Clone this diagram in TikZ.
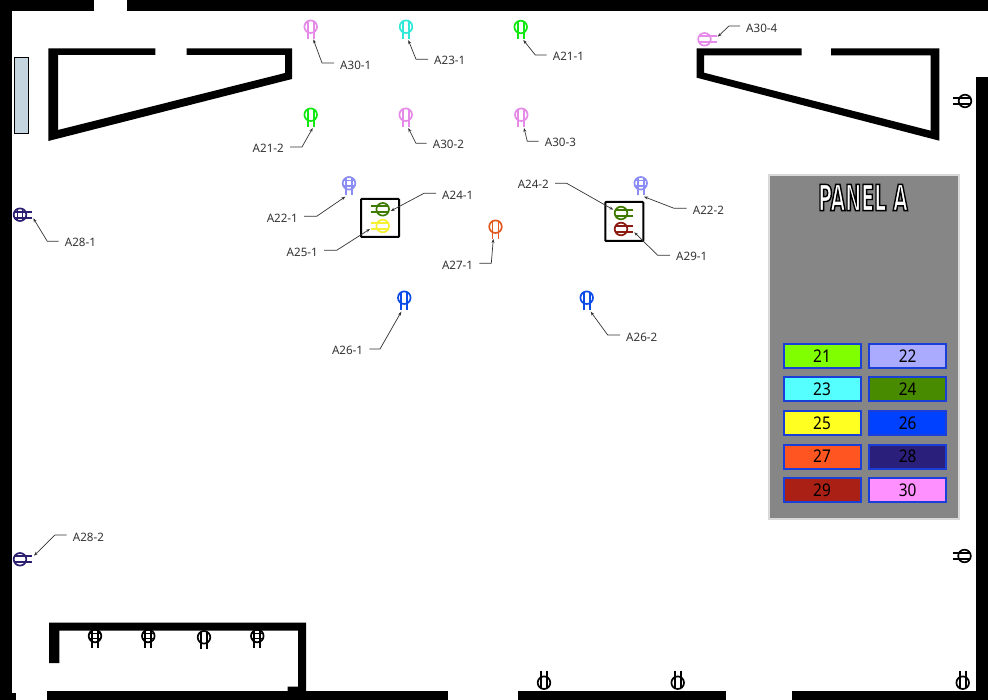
\documentclass[tikz,border=0pt]{standalone}
\usepackage{fontspec}
\setmainfont{Noto Sans}
\newfontfamily\numfont[FakeStretch=0.88]{Noto Sans}
\newfontfamily\titlefont[FakeStretch=0.53]{DejaVu Sans Bold}
\usetikzlibrary{arrows.meta,calc}
\definecolor{cA}{HTML}{10E810}\definecolor{cB}{HTML}{8C8CF5}\definecolor{cC}{HTML}{30E8D8}
\definecolor{cD}{HTML}{3F7A00}\definecolor{cE}{HTML}{F5F030}\definecolor{cF}{HTML}{0A4AE8}
\definecolor{cG}{HTML}{E05A20}\definecolor{cH}{HTML}{2C1F70}\definecolor{cI}{HTML}{8B1A10}
\definecolor{cJ}{HTML}{E58AE8}
\definecolor{lead}{HTML}{333333}
\definecolor{swborder}{HTML}{1A3FD8}
\definecolor{winfill}{HTML}{C5D5DF}
\definecolor{panelgray}{HTML}{868686}
\definecolor{panelrim}{HTML}{D9D9D9}
\tikzset{
  x=1pt,y=-1pt,
  wall/.style={fill=black,draw=none},
  leader/.style={draw=lead,line width=0.7pt,-{Stealth[length=4pt,width=3pt]}},
  taglabel/.style={text=lead,font=\fontsize{11.6}{13}\selectfont,inner xsep=6pt,inner ysep=0pt},
  swatch/.style={draw=swborder,line width=2pt,minimum width=77pt,minimum height=24pt,inner sep=0pt,font=\numfont\fontsize{17.5}{20}\selectfont,text=black},
  fixv/.pic={
    \draw[line width=1.7pt] (0,0) circle[radius=6.3];
    \draw[line width=1.7pt] (-3,12) -- (-3,-5.5) (3,12) -- (3,-5.5);
  },
  fixg/.pic={
    \draw[line width=1.7pt] (0,0) circle[radius=6.3];
    \draw[line width=1.7pt] (-3,12) -- (-3,-5.5) (3,12) -- (3,-5.5);
    \draw[line width=1.3pt] (-5.5,-2.6) -- (5.5,-2.6) (-5.5,2.6) -- (5.5,2.6);
  },
}
% name, pic, colour, centre, rotation
\newcommand{\fixture}[5]{\coordinate (#1) at (#4); \pic[draw=#3,rotate=#5] at (#1) {#2};}
% fixture name, label anchor, label position, elbow, tip, text
\newcommand{\tagline}[6]{%
  \node[taglabel,anchor=#2] (t#1) at (#3) {#6};
  \coordinate (e#1) at (#4);
  \coordinate (p#1) at (#5);
  \draw[leader] (t#1.#2 |- e#1) -- (e#1) -- (p#1);}
\begin{document}
\begin{tikzpicture}
\useasboundingbox[fill=white] (0,0) rectangle (988,700);
% outer walls
\fill[wall] (0,0) rectangle (94,11);
\fill[wall] (127,0) rectangle (988,11);
\fill[wall] (0,0) rectangle (11.5,700);
\fill[wall] (0,693) rectangle (16,700);
\fill[wall] (976,77) rectangle (988,700);
\fill[wall] (47,691) rectangle (448,699.5);
\fill[wall] (518,691) rectangle (726,699.5);
\fill[wall] (792,691) rectangle (988,699.5);
\fill[wall] (163,700) -- (167,698) -- (171,700) -- cycle;
% upper left room
\fill[wall] (155.3,48.3) -- (48.3,48.3) -- (48.3,141) -- (292,79) -- (292,48.3) -- (186.7,48.3) -- (186.7,55) -- (285,55) -- (285,73) -- (58,130) -- (58,55) -- (155.3,55) -- cycle;
% upper right room
\fill[wall] (801.7,48.3) -- (696.7,48.3) -- (696.7,77.7) -- (939.3,140.7) -- (939.3,48.3) -- (831,48.3) -- (831,55.3) -- (930.7,55.3) -- (930.7,130.7) -- (704,72.7) -- (704,55.3) -- (801.7,55.3) -- cycle;
% lower left room
\fill[wall] (49,663) -- (49,622.7) -- (306,622.7) -- (306,691) -- (287.7,691) -- (287.7,686.7) -- (298,686.7) -- (298,630.7) -- (59.3,630.7) -- (59.3,663) -- cycle;
% window
\draw[fill=winfill,draw=black,line width=1pt] (14,58) rectangle (28,134);
% equipment boxes
\node[draw=black,line width=2pt,rounded corners=0.8pt,minimum width=38pt,minimum height=38pt,inner sep=0pt] (boxL) at (380,218) {};
\node[draw=black,line width=2pt,rounded corners=0.8pt,minimum width=38pt,minimum height=39pt,inner sep=0pt] (boxR) at (624.3,221.5) {};
% panel
\node[fill=panelgray,draw=panelrim,line width=2pt,minimum width=190pt,minimum height=344pt,inner sep=0pt] (panel) at (864,347) {};
\node[inner sep=0pt,text=white] (paneltitle) at (863,197.5) {\titlefont\fontsize{36}{36}\selectfont\special{pdf:code 2 Tr 1.4 w 0 0 0 RG 1 1 1 rg}PANEL A\special{pdf:code 0 Tr}};
\node[swatch,fill={rgb,255:red,128;green,255;blue,0}] (s21) at (822,355.8) {21};
\node[swatch,fill={rgb,255:red,170;green,170;blue,255}] (s22) at (907.7,355.8) {22};
\node[swatch,fill={rgb,255:red,85;green,255;blue,255}] (s23) at (822,389.5) {23};
\node[swatch,fill={rgb,255:red,72;green,138;blue,0}] (s24) at (907.7,389.5) {24};
\node[swatch,fill={rgb,255:red,255;green,255;blue,34}] (s25) at (822,422.8) {25};
\node[swatch,fill={rgb,255:red,0;green,64;blue,255}] (s26) at (907.7,422.8) {26};
\node[swatch,fill={rgb,255:red,255;green,85;blue,32}] (s27) at (822,456.5) {27};
\node[swatch,fill={rgb,255:red,42;green,31;blue,122}] (s28) at (907.7,456.5) {28};
\node[swatch,fill={rgb,255:red,170;green,32;blue,21}] (s29) at (822,490) {29};
\node[swatch,fill={rgb,255:red,255;green,144;blue,255}] (s30) at (907.7,490) {30};
% black fixtures
\fixture{b1}{fixg}{black}{95,636}{0}
\fixture{b2}{fixg}{black}{148.3,636}{0}
\fixture{b3}{fixv}{black}{204,637.3}{0}
\fixture{b4}{fixg}{black}{257.3,636}{0}
\fixture{b5}{fixv}{black}{544,682.7}{180}
\fixture{b6}{fixv}{black}{677.7,682.7}{180}
\fixture{b7}{fixv}{black}{962.7,682.7}{180}
\fixture{b8}{fixv}{black}{965,101}{-90}
\fixture{b9}{fixv}{black}{964.5,556}{-90}
% coloured fixtures
\fixture{A30-1}{fixv}{cJ}{310.7,26.7}{0}
\fixture{A23-1}{fixv}{cC}{406,26.7}{0}
\fixture{A21-1}{fixv}{cA}{520.7,27}{0}
\fixture{A21-2}{fixv}{cA}{310.7,114.7}{0}
\fixture{A30-2}{fixv}{cJ}{405.7,114.7}{0}
\fixture{A30-3}{fixv}{cJ}{521.3,114.7}{0}
\fixture{A30-4}{fixv}{cJ}{704.5,39.3}{90}
\fixture{A22-1}{fixg}{cB}{349,183.3}{0}
\fixture{A22-2}{fixg}{cB}{640.7,183.3}{0}
\fixture{A24-1}{fixv}{cD}{382.7,209.3}{-90}
\fixture{A25-1}{fixv}{cE}{382.7,226}{-90}
\fixture{A24-2}{fixv}{cD}{621,213}{90}
\fixture{A29-1}{fixv}{cI}{621,229}{90}
\fixture{A27-1}{fixv}{cG}{495.5,226.7}{0}
\fixture{A26-1}{fixv}{cF}{404.3,297.7}{0}
\fixture{A26-2}{fixv}{cF}{586.7,297.7}{0}
\fixture{A28-1}{fixg}{cH}{20,214.7}{90}
\fixture{A28-2}{fixv}{cH}{20,559.3}{90}
% leaders and labels
\tagline{A30-1}{west}{334,65.7}{322,63}{313.3,39.3}{A30-1}
\tagline{A23-1}{west}{428,60.7}{416,59.3}{408.3,40}{A23-1}
\tagline{A21-1}{west}{546.7,56.7}{535.3,55}{523.3,40}{A21-1}
\tagline{A21-2}{east}{290,148}{302,147}{312.7,128}{A21-2}
\tagline{A30-2}{west}{426.7,144.5}{416,143.3}{408.3,128}{A30-2}
\tagline{A30-3}{west}{538.7,142.5}{527.3,141.3}{524,128}{A30-3}
\tagline{A30-4}{west}{740,28.5}{729,26}{717.7,36.7}{A30-4}
\tagline{A22-1}{east}{304,218.3}{316.7,216.3}{345.3,196.7}{A22-1}
\tagline{A24-1}{west}{436,195.7}{424,193.3}{390.7,211}{A24-1}
\tagline{A25-1}{east}{324,252.7}{336.7,250.3}{370,229}{A25-1}
\tagline{A27-1}{east}{479.3,265}{491.3,263.3}{493.3,239}{A27-1}
\tagline{A26-1}{east}{369.3,350.3}{380,349}{401.3,311.7}{A26-1}
\tagline{A24-2}{east}{555,184.3}{566.7,183.3}{613.3,209.7}{A24-2}
\tagline{A22-2}{west}{686.7,210.7}{674,208.3}{644,196.7}{A22-2}
\tagline{A29-1}{west}{670,256.7}{657.7,255.3}{634.3,232.3}{A29-1}
\tagline{A26-2}{west}{620,337.3}{607.7,335}{590.7,311.7}{A26-2}
\tagline{A28-1}{west}{58.7,242.7}{47.3,241.3}{33.3,218.3}{A28-1}
\tagline{A28-2}{west}{66.7,537.5}{55,535}{34,555.7}{A28-2}
\end{tikzpicture}
\end{document}
